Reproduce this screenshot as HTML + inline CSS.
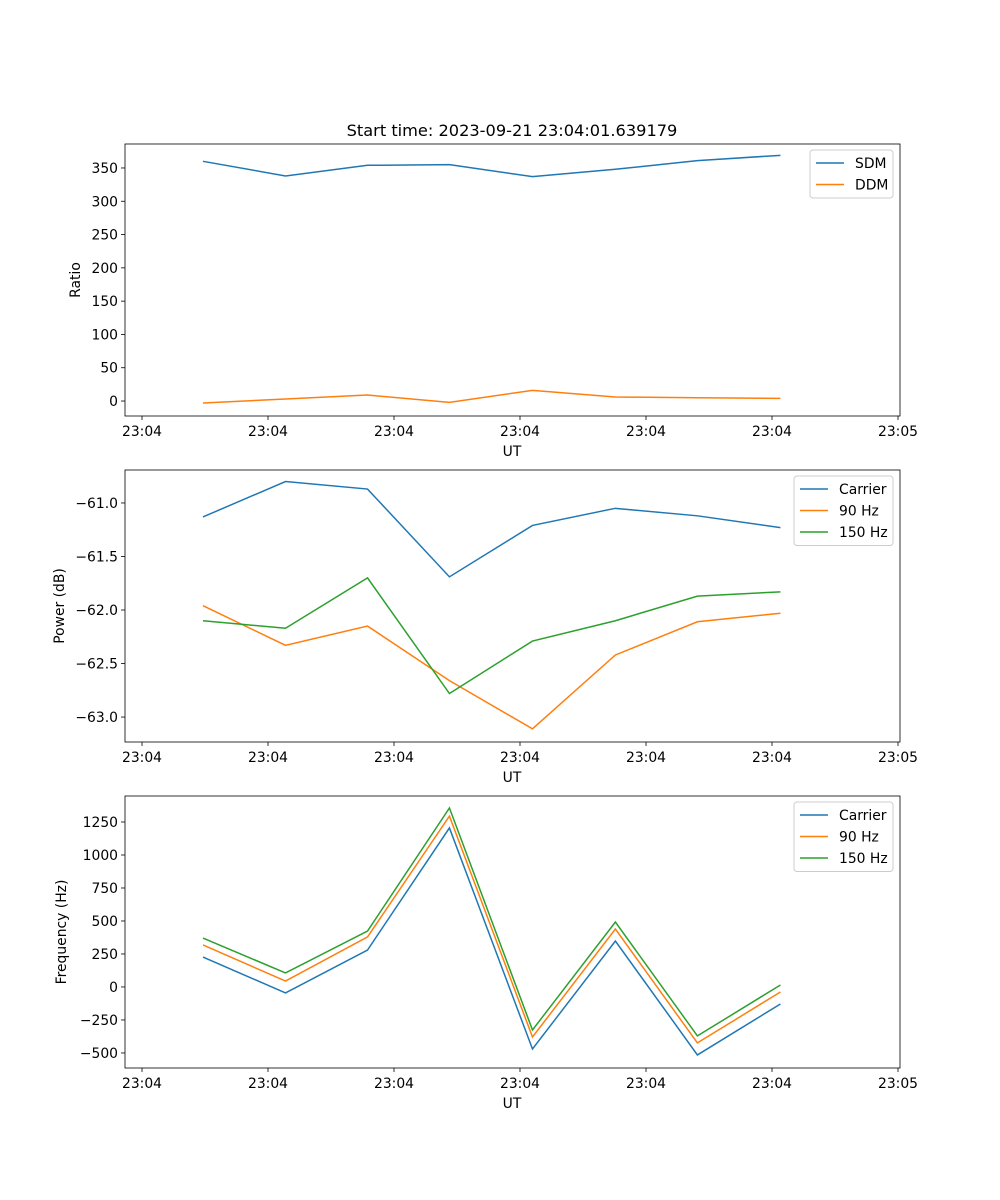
<!DOCTYPE html>
<html><head><meta charset="utf-8"><style>
body{margin:0;background:#fff}
svg{display:block;font-family:"DejaVu Sans","Liberation Sans",sans-serif}
</style></head><body>
<svg id="fig" width="1000" height="1200" viewBox="0 0 1000 1200"></svg>
<script>
const times=[0.484,1.139,1.790,2.440,3.099,3.757,4.408,5.067];
const xTickVals=[0,1,2,3,4,5,6];
const xTickLabels=["23:04","23:04","23:04","23:04","23:04","23:04","23:05"];
const sdm=[360,338,354,355,337,348,361,369];
const ddm=[-3,3,9,-2,16,6,5,4];
const pCarrier=[-61.13,-60.80,-60.87,-61.69,-61.21,-61.05,-61.12,-61.23];
const p90=[-61.96,-62.33,-62.15,-62.66,-63.11,-62.42,-62.11,-62.03];
const p150=[-62.10,-62.17,-61.70,-62.78,-62.29,-62.10,-61.87,-61.83];
const fCarrier=[227,-45,280,1205,-470,348,-515,-129];
const f90=[318,45,379,1295,-379,439,-424,-38];
const f150=[371,106,424,1356,-326,492,-371,15];
const ticks1=[0,50,100,150,200,250,300,350];
const ticks2=[-63.0,-62.5,-62.0,-61.5,-61.0];
const ticks3=[-500,-250,0,250,500,750,1000,1250];
const NS="http://www.w3.org/2000/svg";
const svg=document.getElementById('fig');
function el(t,a,p){const e=document.createElementNS(NS,t);for(const k in a)e.setAttribute(k,a[k]);(p||svg).appendChild(e);return e;}
const L=125,R=900;
const xs=v=>142+126*v;
function panel(name,top,bot,ymin,ymax,yt,fmt,ylabel,series,legend){
  const g=el('g',{});
  
  
  const ys=v=>bot-(v-ymin)/(ymax-ymin)*(bot-top);
  yt.forEach(v=>{const y=ys(v);
    el('line',{x1:L-4,x2:L,y1:y,y2:y,stroke:'#000','stroke-width':0.8},g);
    const t=el('text',{x:L-7,y:y+5,'text-anchor':'end','font-size':13.9},g);t.textContent=fmt(v);
    });
  xTickVals.forEach((v,i)=>{const x=xs(v);
    el('line',{x1:x,x2:x,y1:bot,y2:bot+4,stroke:'#000','stroke-width':0.8},g);
    const t=el('text',{x:x,y:bot+20,'text-anchor':'middle','font-size':13.9},g);t.textContent=xTickLabels[i];
    });
  const xl=el('text',{x:512,y:bot+40,'text-anchor':'middle','font-size':13.9},g);xl.textContent='UT';
  
  const yl=el('text',{x:0,y:0,'text-anchor':'middle','font-size':13.9,transform:`translate(${ylabel[1]},${(top+bot)/2}) rotate(-90)`},g);yl.textContent=ylabel[0];
  
  series.forEach(s=>{const p=el('polyline',{points:s.d.map((v,i)=>xs(times[i])+','+ys(v)).join(' '),fill:'none',stroke:s.c,'stroke-width':1.5},g);
    });
  el('rect',{x:L,y:top,width:R-L,height:bot-top,fill:'none',stroke:'#000','stroke-width':0.8},g);
  const lg=el('g',{},g);
  el('rect',{x:legend[0],y:top+6,width:893-legend[0],height:series.length*21.5+5,rx:3,fill:'#fff',stroke:'#ccc','stroke-width':1},lg);
  series.forEach((s,i)=>{const y=top+19+i*21.5;
    el('line',{x1:legend[0]+6,x2:legend[0]+34,y1:y,y2:y,stroke:s.c,'stroke-width':1.5},lg);
    const t=el('text',{x:legend[0]+45,y:y+5,'font-size':13.9},lg);t.textContent=s.n;
    });
}
const tt=el('text',{x:512,y:136,'text-anchor':'middle','font-size':16.2});tt.textContent='Start time: 2023-09-21 23:04:01.639179';

const B='#1f77b4',O='#ff7f0e',G='#2ca02c';
panel('ratio',144,416,-22.5,386,ticks1,v=>v,['Ratio',80],[{n:'SDM',d:sdm,c:B},{n:'DDM',d:ddm,c:O}],[810]);
panel('power',470,742,-63.233,-60.692,ticks2,v=>(v<0?'\u2212':'')+Math.abs(v).toFixed(1),['Power (dB)',64],[{n:'Carrier',d:pCarrier,c:B},{n:'90 Hz',d:p90,c:O},{n:'150 Hz',d:p150,c:G}],[794]);
panel('frequency',796,1068,-614,1447,ticks3,v=>(v<0?'\u2212':'')+Math.abs(v),['Frequency (Hz)',66],[{n:'Carrier',d:fCarrier,c:B},{n:'90 Hz',d:f90,c:O},{n:'150 Hz',d:f150,c:G}],[794]);
</script>
</body></html>
